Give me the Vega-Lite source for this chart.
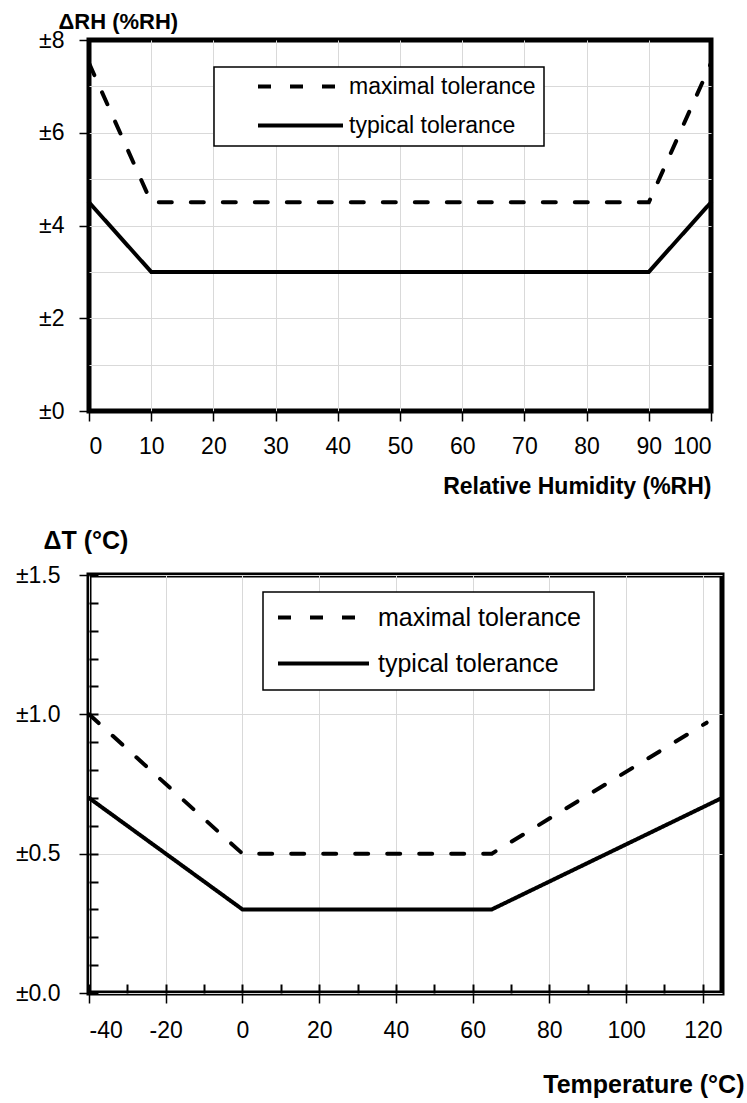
{
  "$schema": "https://vega.github.io/schema/vega-lite/v6.json",
  "padding": {"left": 12, "top": 7, "right": 0, "bottom": 0},
  "background": "white",
  "spacing": 24,
  "config": {
    "view": {"stroke": "black", "strokeWidth": 5},
    "font": "Liberation Sans",
    "axis": {
      "labelFont": "Liberation Sans",
      "labelFontSize": 23,
      "labelColor": "black",
      "titleFont": "Liberation Sans",
      "titleFontWeight": "bold",
      "titleFontSize": 22,
      "titleColor": "black",
      "tickColor": "black",
      "tickWidth": 1.5,
      "gridColor": "#d9d9d9",
      "gridWidth": 1,
      "domain": false
    }
  },
  "resolve": {"scale": {"strokeDash": "independent"}, "legend": {"strokeDash": "independent"}},
  "datasets": {
    "rh": [
      {"series": "maximal tolerance", "x": 0, "y": 7.5},
      {"series": "maximal tolerance", "x": 10, "y": 4.5},
      {"series": "maximal tolerance", "x": 90, "y": 4.5},
      {"series": "maximal tolerance", "x": 100, "y": 7.5},
      {"series": "typical tolerance", "x": 0, "y": 4.5},
      {"series": "typical tolerance", "x": 10, "y": 3},
      {"series": "typical tolerance", "x": 90, "y": 3},
      {"series": "typical tolerance", "x": 100, "y": 4.5}
    ],
    "temp": [
      {"series": "maximal tolerance", "x": -40, "y": 1.0},
      {"series": "maximal tolerance", "x": 0, "y": 0.5},
      {"series": "maximal tolerance", "x": 65, "y": 0.5},
      {"series": "maximal tolerance", "x": 121, "y": 0.97},
      {"series": "typical tolerance", "x": -40, "y": 0.7},
      {"series": "typical tolerance", "x": 0, "y": 0.3},
      {"series": "typical tolerance", "x": 65, "y": 0.3},
      {"series": "typical tolerance", "x": 125, "y": 0.7}
    ]
  },
  "vconcat": [
    {
      "width": 622,
      "height": 371,
      "data": {"name": "rh"},
      "layer": [
        {
          "mark": {"type": "line", "strokeOpacity": 0},
          "encoding": {
            "x": {"field": "x", "type": "quantitative", "scale": {"domain": [0, 100], "nice": false},
              "axis": {"orient": "bottom", "values": [10, 20, 30, 40, 50, 60, 70, 80, 90], "grid": true, "labels": false, "ticks": false, "title": null}},
            "y": {"field": "y", "type": "quantitative", "scale": {"domain": [0, 8], "nice": false},
              "axis": {"orient": "left", "values": [1, 2, 3, 4, 5, 6, 7], "grid": true, "labels": false, "ticks": false, "title": null}},
            "detail": {"field": "series"}
          }
        },
        {
          "mark": {"type": "line", "color": "black", "strokeWidth": 4, "strokeCap": "round"},
          "encoding": {
            "x": {"field": "x", "type": "quantitative",
              "axis": {"orient": "bottom", "values": [0, 10, 20, 30, 40, 50, 60, 70, 80, 90, 100], "grid": false, "format": "d",
                "tickSize": 10, "labelPadding": 14,
                "title": "Relative Humidity (%RH)", "titleFontSize": 23, "titleX": 622, "titleY": 82, "titleAlign": "right", "titleBaseline": "alphabetic"}},
            "y": {"field": "y", "type": "quantitative",
              "axis": {"orient": "left", "values": [0, 2, 4, 6, 8], "grid": false, "format": "d", "labelExpr": "'±' + datum.label",
                "tickSize": 10, "labelPadding": 15,
                "title": "ΔRH (%RH)", "titleAngle": 0, "titleX": -31, "titleY": -12, "titleAlign": "left", "titleBaseline": "alphabetic"}},
            "strokeDash": {"field": "series", "type": "nominal",
              "scale": {"domain": ["maximal tolerance", "typical tolerance"], "range": [[13, 19], [1, 0]]},
              "legend": {"orient": "none", "legendX": 125, "legendY": 27, "title": null,
                "symbolType": "stroke", "symbolSize": 7225, "symbolStrokeWidth": 4, "symbolStrokeColor": "black",
                "labelFont": "Liberation Sans", "labelFontSize": 23, "labelColor": "black", "labelLimit": 400,
                "labelOffset": 4, "symbolOffset": 34, "clipHeight": 23, "rowPadding": 15, "padding": 8,
                "strokeColor": "black", "fillColor": "white", "cornerRadius": 0,
                "encode": {"legend": {"update": {"strokeWidth": {"value": 1.5}}}}}}
          }
        }
      ],
      "resolve": {"axis": {"x": "independent", "y": "independent"}}
    },
    {
      "width": 633,
      "height": 418,
      "data": {"name": "temp"},
      "layer": [
        {
          "mark": {"type": "line", "strokeOpacity": 0},
          "encoding": {
            "x": {"field": "x", "type": "quantitative", "scale": {"domain": [-40, 125], "nice": false, "zero": false},
              "axis": {"orient": "bottom", "values": [-40, -30, -20, -10, 0, 10, 20, 30, 40, 50, 60, 70, 80, 90, 100, 110, 120], "grid": false, "labels": false,
                "ticks": true, "tickSize": -9, "tickWidth": 2, "title": null}},
            "y": {"field": "y", "type": "quantitative", "scale": {"domain": [0, 1.5], "nice": false},
              "axis": {"orient": "left", "values": [0, 0.1, 0.2, 0.3, 0.4, 0.5, 0.6, 0.7, 0.8, 0.9, 1.0, 1.1, 1.2, 1.3, 1.4, 1.5], "grid": false, "labels": false,
                "ticks": true, "tickSize": -9, "tickWidth": 2, "title": null}},
            "detail": {"field": "series"}
          }
        },
        {
          "mark": {"type": "line", "color": "black", "strokeWidth": 4, "strokeCap": "round"},
          "encoding": {
            "x": {"field": "x", "type": "quantitative",
              "axis": {"orient": "bottom", "values": [-40, -20, 0, 20, 40, 60, 80, 100, 120], "grid": true, "labelExpr": "'' + datum.value",
                "tickSize": 10, "labelPadding": 16,
                "title": "Temperature (°C)", "titleFontSize": 25, "titleX": 655, "titleY": 99, "titleAlign": "right", "titleBaseline": "alphabetic"}},
            "y": {"field": "y", "type": "quantitative",
              "axis": {"orient": "left", "values": [0, 0.5, 1.0, 1.5], "grid": true, "format": ".1f", "labelExpr": "'±' + datum.label",
                "tickSize": 10, "labelPadding": 19,
                "title": "ΔT (°C)", "titleFontSize": 25, "titleAngle": 0, "titleX": -46, "titleY": -27, "titleAlign": "left", "titleBaseline": "alphabetic"}},
            "strokeDash": {"field": "series", "type": "nominal",
              "scale": {"domain": ["maximal tolerance", "typical tolerance"], "range": [[13, 19], [1, 0]]},
              "legend": {"orient": "none", "legendX": 174, "legendY": 17, "title": null,
                "symbolType": "stroke", "symbolSize": 8281, "symbolStrokeWidth": 4, "symbolStrokeColor": "black",
                "labelFont": "Liberation Sans", "labelFontSize": 25, "labelColor": "black", "labelLimit": 400,
                "labelOffset": 7, "clipHeight": 25, "rowPadding": 20, "padding": 13,
                "strokeColor": "black", "fillColor": "white", "cornerRadius": 0,
                "encode": {"legend": {"update": {"strokeWidth": {"value": 1.5}}}}}}
          }
        }
      ],
      "resolve": {"axis": {"x": "independent", "y": "independent"}}
    }
  ]
}
